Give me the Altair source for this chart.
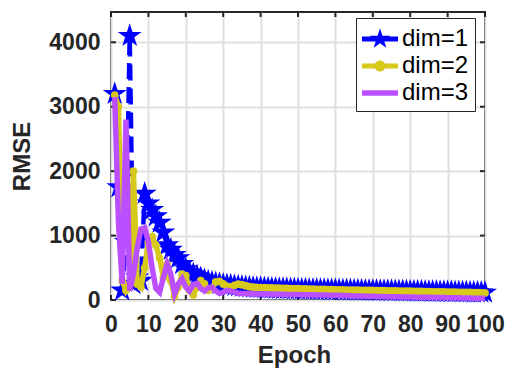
import altair as alt
import pandas as pd

EPOCHS = list(range(1, 101))

DIM1 = [3200, 1750, 150, 900, 4100, 250, 350, 300, 1650, 1500,
        1400, 1300, 1200, 1050, 850, 780, 700, 650, 560, 480,
        430, 400, 370, 340, 310, 290, 275, 262, 250, 240,
        232, 226, 219, 212, 207, 201, 197, 193, 189, 186,
        183, 180, 178, 176, 174, 172, 171, 169, 167, 166,
        165, 163, 162, 161, 160, 159, 158, 157, 156, 155,
        154, 153, 152, 151, 150, 149, 148, 147, 146, 145,
        144, 143, 142, 141, 140, 139, 138, 137, 136, 135,
        134, 133, 132, 131, 130, 129, 128, 127, 126, 125,
        124, 123, 122, 121, 120, 119, 118, 117, 116, 115]

DIM2 = [3180, 3000, 300, 150, 250, 2000, 250, 200, 500, 900,
        980, 850, 650, 350, 560, 300, 60, 200, 400, 380,
        150, 80, 200, 300, 250, 150, 180, 280, 290, 250,
        215, 205, 228, 245, 238, 222, 206, 200, 197, 194,
        192, 190, 188, 186, 184, 182, 180, 178, 176, 175,
        174, 172, 170, 168, 166, 165, 164, 162, 160, 158,
        157, 156, 155, 154, 153, 152, 151, 150, 149, 148,
        146, 145, 144, 143, 142, 140, 139, 138, 137, 136,
        134, 133, 132, 131, 130, 128, 127, 126, 125, 124,
        122, 121, 120, 119, 118, 117, 116, 115, 112, 110]

DIM3 = [3150, 1200, 250, 2800, 150, 400, 800, 1100, 1120, 900,
        500, 180, 120, 350, 560, 400, 100, 250, 330, 200,
        140, 240, 260, 180, 140, 190, 200, 140, 100, 120,
        150, 140, 120, 105, 100, 100, 98, 96, 95, 94,
        93, 92, 91, 90, 89, 88, 87, 86, 85, 84,
        83, 82, 81, 80, 79, 78, 77, 76, 75, 74,
        72, 70, 68, 66, 64, 62, 61, 60, 59, 58,
        56, 55, 54, 52, 51, 50, 49, 48, 47, 46,
        45, 44, 43, 42, 41, 40, 39, 38, 37, 36,
        35, 34, 33, 32, 31, 30, 29, 28, 27, 26]

X_TICKS = [0, 10, 20, 30, 40, 50, 60, 70, 80, 90, 100]
Y_TICKS = [0, 1000, 2000, 3000, 4000]
LABELS = ["dim=1", "dim=2", "dim=3"]
COLORS = ["#0000ff", "#d6c91b", "#bb4fff"]

W, H = 374, 288
FONT = "Liberation Sans"
DARK = "#262626"


def star_path(cx, cy, r):
    pts = [(0, -1), (0.2245, -0.309), (0.951, -0.309), (0.363, 0.118),
           (0.588, 0.809), (0, 0.382), (-0.588, 0.809), (-0.363, 0.118),
           (-0.951, -0.309), (-0.2245, -0.309)]
    s = "M" + "L".join(f"{cx + px * r:.4f},{cy + py * r:.4f}" for px, py in pts)
    return s + "Z"


def bar_path(x0, x1, t):
    return f"M{x0},{-t}H{x1}V{t}H{x0}Z"


def circle_path(cx, cy, r):
    return (f"M{cx - r},{cy}A{r},{r} 0 1 1 {cx + r},{cy}"
            f"A{r},{r} 0 1 1 {cx - r},{cy}Z")


STAR = star_path(0, 0, 1)
LEG_SHAPES = [
    bar_path(-1.0, 1.4, 0.17) + star_path(0.2, 0, 0.72),
    bar_path(-1.0, 1.4, 0.17) + circle_path(0.2, 0, 0.37),
    bar_path(-1.0, 1.4, 0.19),
]

df = pd.DataFrame({"epoch": EPOCHS, "d1": DIM1, "d2": DIM2, "d3": DIM3})
xt = pd.DataFrame({"t": X_TICKS})
yt = pd.DataFrame({"t": Y_TICKS})
leg = pd.DataFrame({"dim": LABELS})

xscale = alt.Scale(domain=[0, 100], nice=False, zero=False)
yscale = alt.Scale(domain=[0, 4470], nice=False)

xaxis = alt.Axis(values=X_TICKS, title="Epoch", grid=True, ticks=False, domain=False,
                 labelPadding=13, titlePadding=7, titleX=183, labelOverlap=False,
                 labelFlush=False, format="d")
yaxis = alt.Axis(values=Y_TICKS, title="RMSE", grid=True, ticks=False, domain=False,
                 labelPadding=11, titlePadding=14, labelOverlap=False, format="d")


def X(field):
    return alt.X(f"{field}:Q", scale=xscale, axis=xaxis)


def Y(field):
    return alt.Y(f"{field}:Q", scale=yscale, axis=yaxis)


base = alt.Chart(df)

l1 = base.mark_line(color=COLORS[0], strokeWidth=4.5, strokeDash=[16, 8]).encode(x=X("epoch"), y=Y("d1"))
p1 = base.mark_point(shape=STAR, filled=True, color=COLORS[0], size=640, opacity=1).encode(x=X("epoch"), y=Y("d1"))
l2 = base.mark_line(color=COLORS[1], strokeWidth=5.5).encode(x=X("epoch"), y=Y("d2"))
p2 = base.mark_point(shape="circle", filled=True, color=COLORS[1], size=60, opacity=1).encode(x=X("epoch"), y=Y("d2"))
l3 = base.mark_line(color=COLORS[2], strokeWidth=5.5).encode(x=X("epoch"), y=Y("d3"))

tick_b = alt.Chart(xt).mark_rule(color=DARK, strokeWidth=2).encode(
    x=X("t"), y=alt.value(H), y2=alt.value(H - 5))
tick_t = alt.Chart(xt).mark_rule(color=DARK, strokeWidth=2).encode(
    x=X("t"), y=alt.value(0), y2=alt.value(5))
tick_l = alt.Chart(yt).mark_rule(color=DARK, strokeWidth=2).encode(
    y=Y("t"), x=alt.value(0), x2=alt.value(5))
tick_r = alt.Chart(yt).mark_rule(color=DARK, strokeWidth=2).encode(
    y=Y("t"), x=alt.value(W), x2=alt.value(W - 5))

legend_layer = alt.Chart(leg).transform_filter("false").mark_point(filled=True, size=900, opacity=1).encode(
    color=alt.Color("dim:N", scale=alt.Scale(domain=LABELS, range=COLORS),
                    legend=alt.Legend(title=None, orient="none", legendX=245, legendY=6)),
    shape=alt.Shape("dim:N", scale=alt.Scale(domain=LABELS, range=LEG_SHAPES),
                    legend=alt.Legend(title=None, orient="none", legendX=245, legendY=6)),
)

chart = alt.layer(tick_b, tick_t, tick_l, tick_r, l1, p1, l2, p2, l3, legend_layer).properties(
    width=W, height=H,
    autosize=alt.AutoSizeParams(type="none"),
    padding={"left": 111, "top": 12, "right": 20, "bottom": 73},
).configure_view(
    stroke=DARK, strokeWidth=2
).configure_axis(
    labelFont=FONT, labelFontSize=23, labelFontWeight="bold", labelColor=DARK,
    titleFont=FONT, titleFontSize=24, titleFontWeight="bold", titleColor=DARK,
    gridColor="#e0e0e0", gridWidth=2, gridOpacity=1,
).configure_legend(
    labelFont=FONT, labelFontSize=24, labelColor="#000000", labelOffset=10,
    symbolSize=900, padding=6, rowPadding=0, strokeColor=DARK, fillColor="white",
    symbolStrokeWidth=0, symbolOpacity=1,
)

chart.save("out.html", embed_options={"renderer": "svg", "actions": False})
